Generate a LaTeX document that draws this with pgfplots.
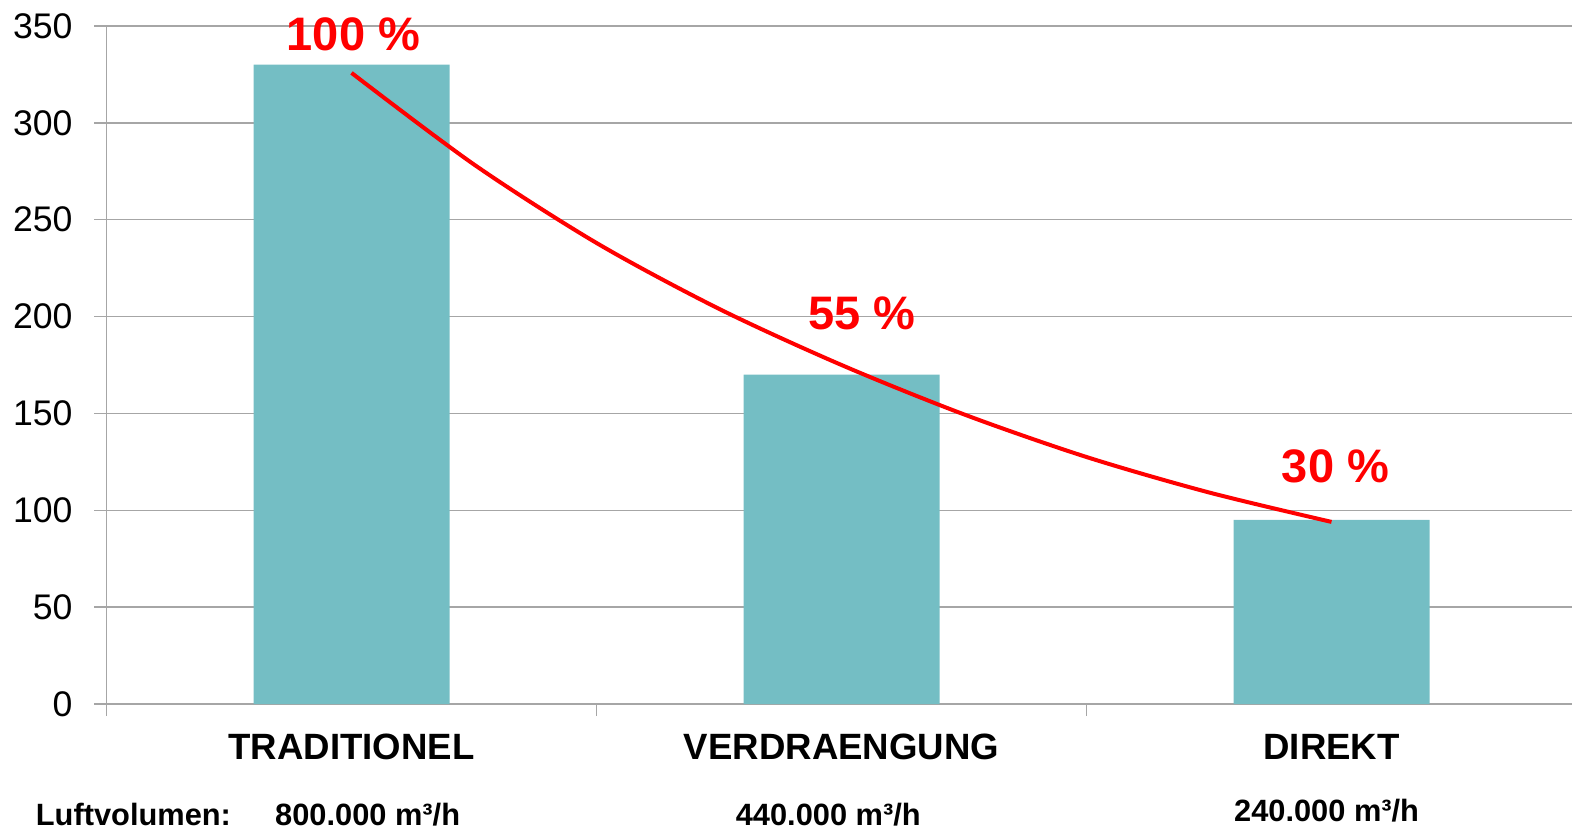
\documentclass[border=0pt]{standalone}
\usepackage{pgfplots}
\pgfplotsset{compat=1.18}
\usepackage{fontspec}
\setmainfont{Liberation Sans}
\definecolor{barc}{RGB}{116,190,196}
\definecolor{gridc}{RGB}{166,166,166}
\definecolor{redc}{RGB}{255,0,0}
\begin{document}
\begin{tikzpicture}
\begin{axis}[
  name=ax,
  width=735pt, height=339pt, scale only axis,
  xmin=-0.5, xmax=2.5, ymin=0, ymax=350,
  axis x line*=bottom, axis y line*=left,
  axis line style={draw=gridc, line width=0.7pt},
  ytick={0,50,...,350},
  ymajorgrids, grid style={draw=gridc, line width=0.7pt},
  xtick={0,1,2},
  xticklabels={TRADITIONEL,VERDRAENGUNG,DIREKT},
  minor xtick={-0.5,0.5,1.5,2.5},
  tick align=outside,
  major tick length=6pt, minor tick length=6pt,
  tick style={draw=gridc, line width=0.7pt},
  every major x tick/.append style={draw=none},
  /pgf/number format/assume math mode=true,
  yticklabel style={font=\fontsize{17.8}{20}\selectfont, xshift=-7.5pt},
  xticklabel style={font=\bfseries\fontsize{18.3}{22}\selectfont, anchor=base, yshift=-21.5pt},
  clip=false,
]
\addplot[ybar, bar width=98pt, fill=barc, draw=none] coordinates {(0,330) (1,170) (2,95)};
\addplot[redc, line width=2pt, smooth, no markers] coordinates {
(0,325.8) (0.25,278.5) (0.5,238.0) (0.75,204.0) (1.0,175.0) (1.25,149.5) (1.5,127.5) (1.75,109.2) (2.0,94.0)};
\node[anchor=base, text=redc, font=\bfseries\fontsize{23.5}{28}\selectfont] at (axis cs:0.004,337.6) {100 \%};
\node[anchor=base, text=redc, font=\bfseries\fontsize{23.5}{28}\selectfont] at (axis cs:1.041,193.1) {55 \%};
\node[anchor=base, text=redc, font=\bfseries\fontsize{23.5}{28}\selectfont] at (axis cs:2.008,114.1) {30 \%};
\node[anchor=base, font=\bfseries\fontsize{15.4}{18}\selectfont] at (axis cs:-0.445,-62.8) {Luftvolumen:};
\node[anchor=base, font=\bfseries\fontsize{15.4}{18}\selectfont] at (axis cs:0.033,-62.8) {800.000 m³/h};
\node[anchor=base, font=\bfseries\fontsize{15.4}{18}\selectfont] at (axis cs:0.973,-62.8) {440.000 m³/h};
\node[anchor=base, font=\bfseries\fontsize{15.4}{18}\selectfont] at (axis cs:1.99,-60.8) {240.000 m³/h};
\end{axis}
\pgfresetboundingbox
\path[use as bounding box] ([shift={(-53.25pt,-62.5pt)}]ax.south west) rectangle ([shift={(732.75pt,13pt)}]ax.north west);
\end{tikzpicture}
\end{document}
